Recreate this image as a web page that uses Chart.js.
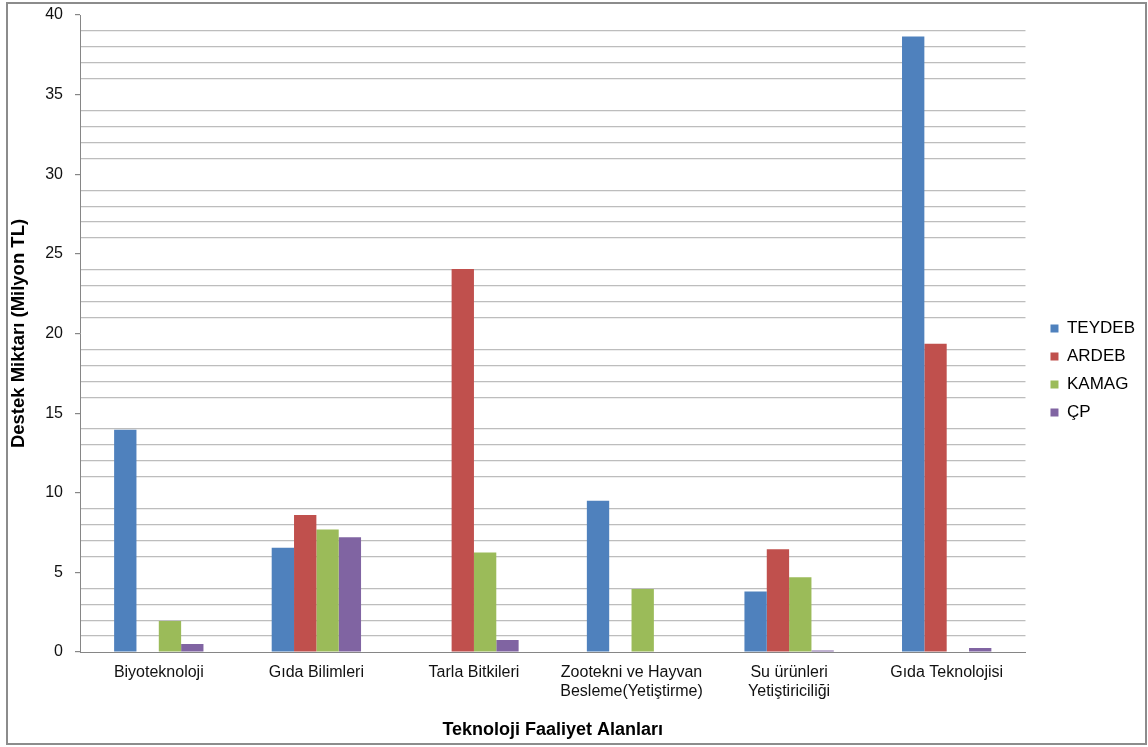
<!DOCTYPE html>
<html>
<head>
    <meta charset="UTF-8">
    <title>Destek Miktarı</title>
    <script src="https://cdn.jsdelivr.net/npm/chart.js"></script>
    <style>
        body { margin: 0; background: #fff; }
        .frame {
            position: absolute;
            left: 6px; top: 2px;
            width: 1137px; height: 739px;
            border: 2px solid #8c8c8c;
        }
    </style>
</head>
<body>
    <div class="frame">
        <canvas id="destekChart"></canvas>
    </div>
    <script>
        // veriler (Milyon TL)
        var alanlar = ['Biyoteknoloji', 'Gıda Bilimleri', 'Tarla Bitkileri',
            ['Zootekni ve Hayvan', 'Besleme(Yetiştirme)'],
            ['Su ürünleri', 'Yetiştiriciliği'], 'Gıda Teknolojisi'];
        var teydeb = [13.95, 6.55, 0, 9.5, 3.8, 38.65];
        var ardeb = [0, 8.6, 24.05, 0, 6.45, 19.35];
        var kamag = [1.95, 7.7, 6.25, 3.95, 4.7, 0];
        var cp = [0.5, 7.2, 0.75, 0, 0.1, 0.25];

        var yazi = "'Liberation Sans', Arial, sans-serif";

        const ctx = document.getElementById('destekChart').getContext('2d');
        const destekChart = new Chart(ctx, {
            type: 'bar',
            data: {
                labels: alanlar,
                datasets: [
                    { label: 'TEYDEB', data: teydeb, backgroundColor: '#4F81BD' },
                    { label: 'ARDEB', data: ardeb, backgroundColor: '#C0504D' },
                    { label: 'KAMAG', data: kamag, backgroundColor: '#9BBB59' },
                    { label: 'ÇP', data: cp, backgroundColor: '#8064A2' }
                ]
            },
            options: {
                responsive: true,
                maintainAspectRatio: false,
                animation: false,
                layout: { padding: { top: 11, right: 0, bottom: 0, left: 0 } },
                datasets: {
                    bar: { barPercentage: 1, categoryPercentage: 0.567 }
                },
                plugins: {
                    tooltip: { enabled: false },
                    legend: {
                        position: 'right',
                        align: 'start',
                        title: { display: true, text: '', padding: { top: 284, bottom: 0 }, font: { size: 10, lineHeight: 1 } },
                        labels: {
                            boxWidth: 8,
                            boxHeight: 8,
                            padding: 11,
                            color: '#000',
                            font: { family: yazi, size: 17 }
                        }
                    }
                },
                scales: {
                    x: {
                        grid: { display: false, drawTicks: false },
                        border: { color: '#868686', width: 1 },
                        ticks: {
                            color: '#111',
                            padding: 11,
                            maxRotation: 0,
                            autoSkip: false,
                            font: { family: yazi, size: 16 }
                        },
                        title: {
                            display: true,
                            text: 'Teknoloji Faaliyet Alanları',
                            color: '#000',
                            padding: { top: 4, bottom: 2 },
                            font: { family: yazi, size: 18, weight: 'bold' }
                        },
                        afterFit: function (s) { s.height = 91; }
                    },
                    y: {
                        min: 0,
                        max: 40,
                        ticks: {
                            stepSize: 1,
                            autoSkip: false,
                            padding: 12,
                            color: '#111',
                            font: { family: yazi, size: 16 },
                            callback: function (v) { return v % 5 === 0 ? v : ''; }
                        },
                        grid: {
                            lineWidth: 1.2,
                            tickLength: 5,
                            color: function (c) { return c.tick && c.tick.value % 5 === 0 ? 'rgba(0,0,0,0)' : '#bdbdbd'; },
                            tickColor: function (c) { return c.tick && c.tick.value % 5 === 0 ? '#868686' : 'rgba(0,0,0,0)'; }
                        },
                        border: { color: '#868686', width: 1 },
                        title: {
                            display: true,
                            text: 'Destek Miktarı (Milyon TL)',
                            color: '#000',
                            padding: 0,
                            font: { family: yazi, size: 18.5, weight: 'bold' }
                        },
                        afterFit: function (s) {
                            s.width = 72;
                            s.paddingTop = 0;
                            s.paddingBottom = 0;
                        }
                    },
                    // bos eksen: grafik ile gosterge arasinda bosluk
                    bosluk: {
                        type: 'linear',
                        position: 'right',
                        display: true,
                        grid: { display: false, drawTicks: false },
                        border: { display: false },
                        ticks: { display: false },
                        afterFit: function (s) {
                            s.width = 14;
                            s.paddingTop = 0;
                            s.paddingBottom = 0;
                        }
                    }
                }
            }
        });
    </script>
</body>
</html>
